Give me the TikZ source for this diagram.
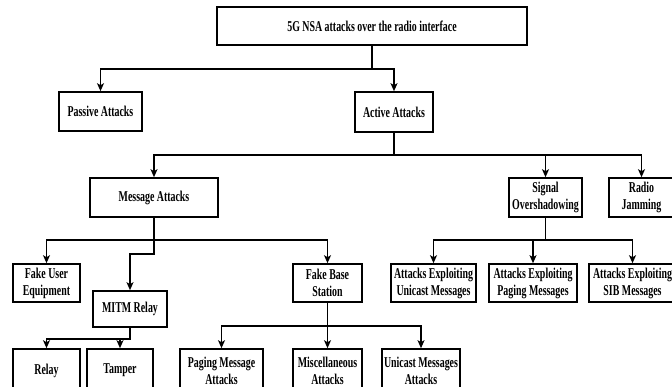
\documentclass[tikz,border=0pt]{standalone}
\usepackage{fontspec}
\setmainfont{Liberation Serif}[FakeStretch=0.66]
\usetikzlibrary{arrows.meta}
\begin{document}
\begin{tikzpicture}[x=1pt,y=-1pt,
  box/.style={draw, line width=1.6pt, inner sep=0pt, align=center,
    font=\bfseries\fontsize{15}{17}\selectfont},
  conn/.style={line width=1.3pt, -{Stealth[length=8pt,width=7pt,inset=2pt]}},
  wire/.style={line width=1.3pt}]
\useasboundingbox[fill=white] (0,0) rectangle (672,387);

\node[box,minimum width=310pt,minimum height=38pt] (top) at (372,26) {5G NSA attacks over the radio interface};
\node[box,minimum width=83pt,minimum height=39pt] (passive) at (100.5,111.5) {Passive Attacks};
\node[box,minimum width=78pt,minimum height=40pt] (active) at (394,112) {Active Attacks};
\node[box,minimum width=128pt,minimum height=39pt] (message) at (154,197.5) {Message Attacks};
\node[box,minimum width=73pt,minimum height=39pt] (signal) at (545.5,197.5) {Signal\\Overshadowing};
\node[box,minimum width=65pt,minimum height=39pt] (radio) at (641.5,197.5) {Radio\\Jamming};
\node[box,minimum width=67pt,minimum height=38pt] (fakeUE) at (46.5,283) {Fake User\\Equipment};
\node[box,minimum width=74pt,minimum height=36pt] (mitm) at (130,309) {MITM Relay};
\node[box,minimum width=69pt,minimum height=38pt] (fbs) at (327.5,283) {Fake Base\\Station};
\node[box,minimum width=85pt,minimum height=38pt] (aeU) at (433.5,283) {Attacks Exploiting\\Unicast Messages};
\node[box,minimum width=88pt,minimum height=38pt] (aeP) at (533,283) {Attacks Exploiting\\Paging Messages};
\node[box,minimum width=87pt,minimum height=38pt] (aeS) at (632.5,283) {Attacks Exploiting\\SIB Messages};
\node[box,minimum width=67pt,minimum height=43pt] (relay) at (46.5,370.5) {Relay};
\node[box,minimum width=66pt,minimum height=43pt] (tamper) at (120,370.5) {Tamper};
\node[box,minimum width=83pt,minimum height=43pt] (paging) at (221.5,370.5) {Paging Message\\Attacks};
\node[box,minimum width=69pt,minimum height=43pt] (misc) at (327.5,370.5) {Miscellaneous\\Attacks};
\node[box,minimum width=78pt,minimum height=43pt] (unicast) at (421,370.5) {Unicast Messages\\Attacks};

\coordinate (h1) at (0,69);
\coordinate (h2) at (0,155);
\coordinate (h3) at (0,240);
\coordinate (h4) at (0,254);
\coordinate (h5) at (0,339);
\coordinate (h6) at (0,326);

\draw[conn] (top.south) -- (top.south |- h1) -| (passive.north);
\draw[conn] (top.south |- h1) -| (active.north);

\draw[conn] (active.south) -- (active.south |- h2) -| (message.north);
\draw[conn] (active.south |- h2) -| (signal.north);
\draw[conn] (active.south |- h2) -| (radio.north);

\draw[conn] (message.south) -- (message.south |- h3) -| (fakeUE.north);
\draw[conn] (message.south |- h3) -| (fbs.north);
\draw[conn] (message.south) -- (message.south |- h4) -| (mitm.north);

\draw[conn] (mitm.south) -- (mitm.south |- h5) -| (relay.north);
\draw[conn] (mitm.south |- h5) -| (tamper.north);

\draw[conn] (fbs.south) -- (fbs.south |- h6) -| (paging.north);
\draw[conn] (fbs.south) -- (misc.north);
\draw[conn] (fbs.south |- h6) -| (unicast.north);

\draw[conn] (signal.south) -- (signal.south |- h3) -| (aeU.north);
\draw[conn] (signal.south |- h3) -| (aeP.north);
\draw[conn] (signal.south |- h3) -| (aeS.north);
\end{tikzpicture}
\end{document}
